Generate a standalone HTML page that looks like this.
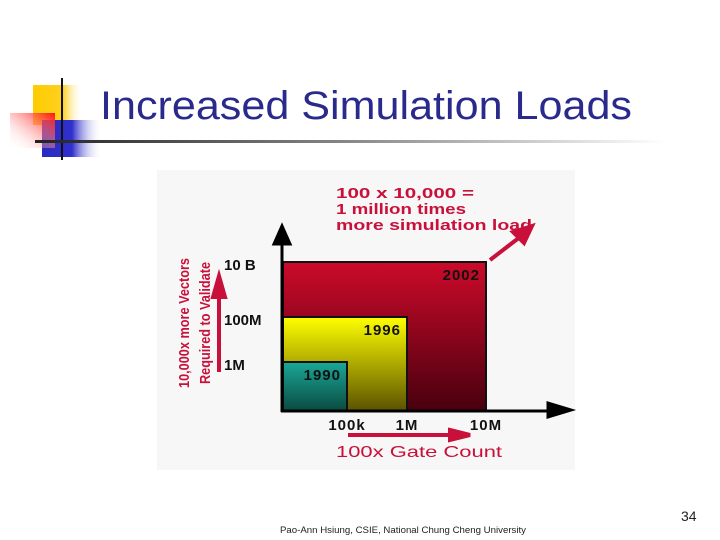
<!DOCTYPE html>
<html><head><meta charset="utf-8"><style>
body{margin:0;width:720px;height:540px;background:#fff;overflow:hidden;position:relative;font-family:"Liberation Sans",sans-serif}
</style></head><body>
<svg width="720" height="540" style="position:absolute;left:0;top:0">
<defs>
<linearGradient id="yel" x1="0" x2="1"><stop offset="0" stop-color="#ffcc00"/><stop offset="0.6" stop-color="#ffd020"/><stop offset="1" stop-color="#fff" stop-opacity="0"/></linearGradient>
<linearGradient id="blu" x1="0" x2="1"><stop offset="0" stop-color="#2a2ac0"/><stop offset="0.5" stop-color="#3030cc"/><stop offset="1" stop-color="#fff" stop-opacity="0"/></linearGradient>
<linearGradient id="red" x1="1" y1="0" x2="0" y2="1"><stop offset="0" stop-color="#ff1010"/><stop offset="1" stop-color="#fff" stop-opacity="0"/></linearGradient>
<linearGradient id="rule" x1="0" x2="1"><stop offset="0" stop-color="#222"/><stop offset="0.5" stop-color="#888"/><stop offset="1" stop-color="#fff"/></linearGradient>
<linearGradient id="g2002" x1="0" y1="0" x2="0" y2="1"><stop offset="0" stop-color="#cc0a2a"/><stop offset="1" stop-color="#48000e"/></linearGradient>
<linearGradient id="g1996" x1="0" y1="0" x2="0" y2="1"><stop offset="0" stop-color="#ffff00"/><stop offset="1" stop-color="#5a5200"/></linearGradient>
<linearGradient id="g1990" x1="0" y1="0" x2="0" y2="1"><stop offset="0" stop-color="#1aa898"/><stop offset="1" stop-color="#0a4a40"/></linearGradient>
</defs>
<g>
<rect x="33" y="85" width="50" height="40" fill="url(#yel)"/>
<rect x="42" y="120" width="60" height="37" fill="url(#blu)"/>
<rect x="10" y="113" width="45" height="35" fill="url(#red)"/>
<rect x="61" y="78" width="2" height="82" fill="#111"/>
</g>
<rect x="35" y="140" width="630" height="3" fill="url(#rule)"/>
<text x="100" y="119" font-size="40" fill="#2a2a8c" textLength="532" lengthAdjust="spacingAndGlyphs">Increased Simulation Loads</text>
<rect x="157" y="170" width="418" height="300" fill="#f7f7f7"/>
<g id="chart"></g>
<text x="280" y="533" font-size="9" fill="#222" textLength="246" lengthAdjust="spacingAndGlyphs">Pao-Ann Hsiung, CSIE, National Chung Cheng University</text>
<text x="681" y="521" font-size="14" fill="#222">34</text>
</svg>
<script>
const years=["2002","1996","1990"];
const gates=[10e6,1e6,100e3];
const vectors=[10e9,100e6,1e6];
const xTickLabels=["100k","1M","10M"];
const xTickValues=[100e3,1e6,10e6];
const yTickLabels=["10 B","100M","1M"];
const yTickValues=[10e9,100e6,1e6];
const fills=["url(#g2002)","url(#g1996)","url(#g1990)"];
const X0=283,Y0=411;
function xs(v){const l=Math.log10(v);if(l<=6)return X0+(l-5)*60+64;return 407+(l-6)*79;}
function ys(v){const l=Math.log10(v);if(l<=8)return 362-(l-6)*22.5;return 317-(l-8)*27.5;}
const NS="http://www.w3.org/2000/svg",g=document.getElementById('chart');
function mk(t,a,txt){const e=document.createElementNS(NS,t);for(const k in a)e.setAttribute(k,a[k]);if(txt!==undefined)e.textContent=txt;g.appendChild(e);return e;}
years.forEach((y,i)=>{
 const x2=xs(gates[i]),y2=ys(vectors[i]);
 const r=mk('rect',{x:X0,y:y2,width:x2-X0,height:Y0-y2,fill:fills[i],stroke:'#111','stroke-width':2});
 
 
 const t=mk('text',{x:x2-6,y:y2+18,'text-anchor':'end','font-size':15,'font-weight':'bold',fill:'#111','letter-spacing':1},y);
 
 
});
let a=mk('path',{d:'M282 412 V238 M274 244 L282 226 L290 244 Z',stroke:'#000','stroke-width':3,fill:'#000'});

a=mk('path',{d:'M281 411 H555 M548 403 L571 410 L548 417 Z',stroke:'#000','stroke-width':3,fill:'#000'});

xTickLabels.forEach((l,i)=>{const t=mk('text',{x:xs(xTickValues[i]),y:430,'text-anchor':'middle','font-size':15,'font-weight':'bold',fill:'#111','letter-spacing':1},l);
 });
yTickLabels.forEach((l,i)=>{const t=mk('text',{x:224,y:ys(yTickValues[i])+8,'font-size':15,'font-weight':'bold',fill:'#111'},l);
 });
a=mk('path',{d:'M348 435 H452 M450 430 L470 435 L450 440 Z',stroke:'#c8103a','stroke-width':4,fill:'#c8103a'});

a=mk('text',{x:336,y:457,'font-size':16,fill:'#c8103a',textLength:166,lengthAdjust:'spacingAndGlyphs'},'100x Gate Count');

a=mk('path',{d:'M219 372 V292 M213 297 L219 276 L225 297 Z',stroke:'#c8103a','stroke-width':4,fill:'#c8103a'});

a=mk('text',{transform:'translate(189,388) rotate(-90)','font-size':15,'font-weight':'bold',fill:'#c8103a',textLength:130,lengthAdjust:'spacingAndGlyphs'},'10,000x more Vectors');

a=mk('text',{transform:'translate(210,384) rotate(-90)','font-size':15,'font-weight':'bold',fill:'#c8103a',textLength:122,lengthAdjust:'spacingAndGlyphs'},'Required to Validate');

a=mk('path',{d:'M490 260 L520 237 M513 232 L532 226 L524 243 Z',stroke:'#c8103a','stroke-width':4,fill:'#c8103a'});

const annW=[138,130,196];
["100 x 10,000 =","1 million times","more simulation load"].forEach((l,i)=>{const t=mk('text',{x:336,y:198+i*16,'font-size':15,'font-weight':'bold',fill:'#c8103a',textLength:annW[i],lengthAdjust:'spacingAndGlyphs'},l);
 });
</script>
</body></html>
